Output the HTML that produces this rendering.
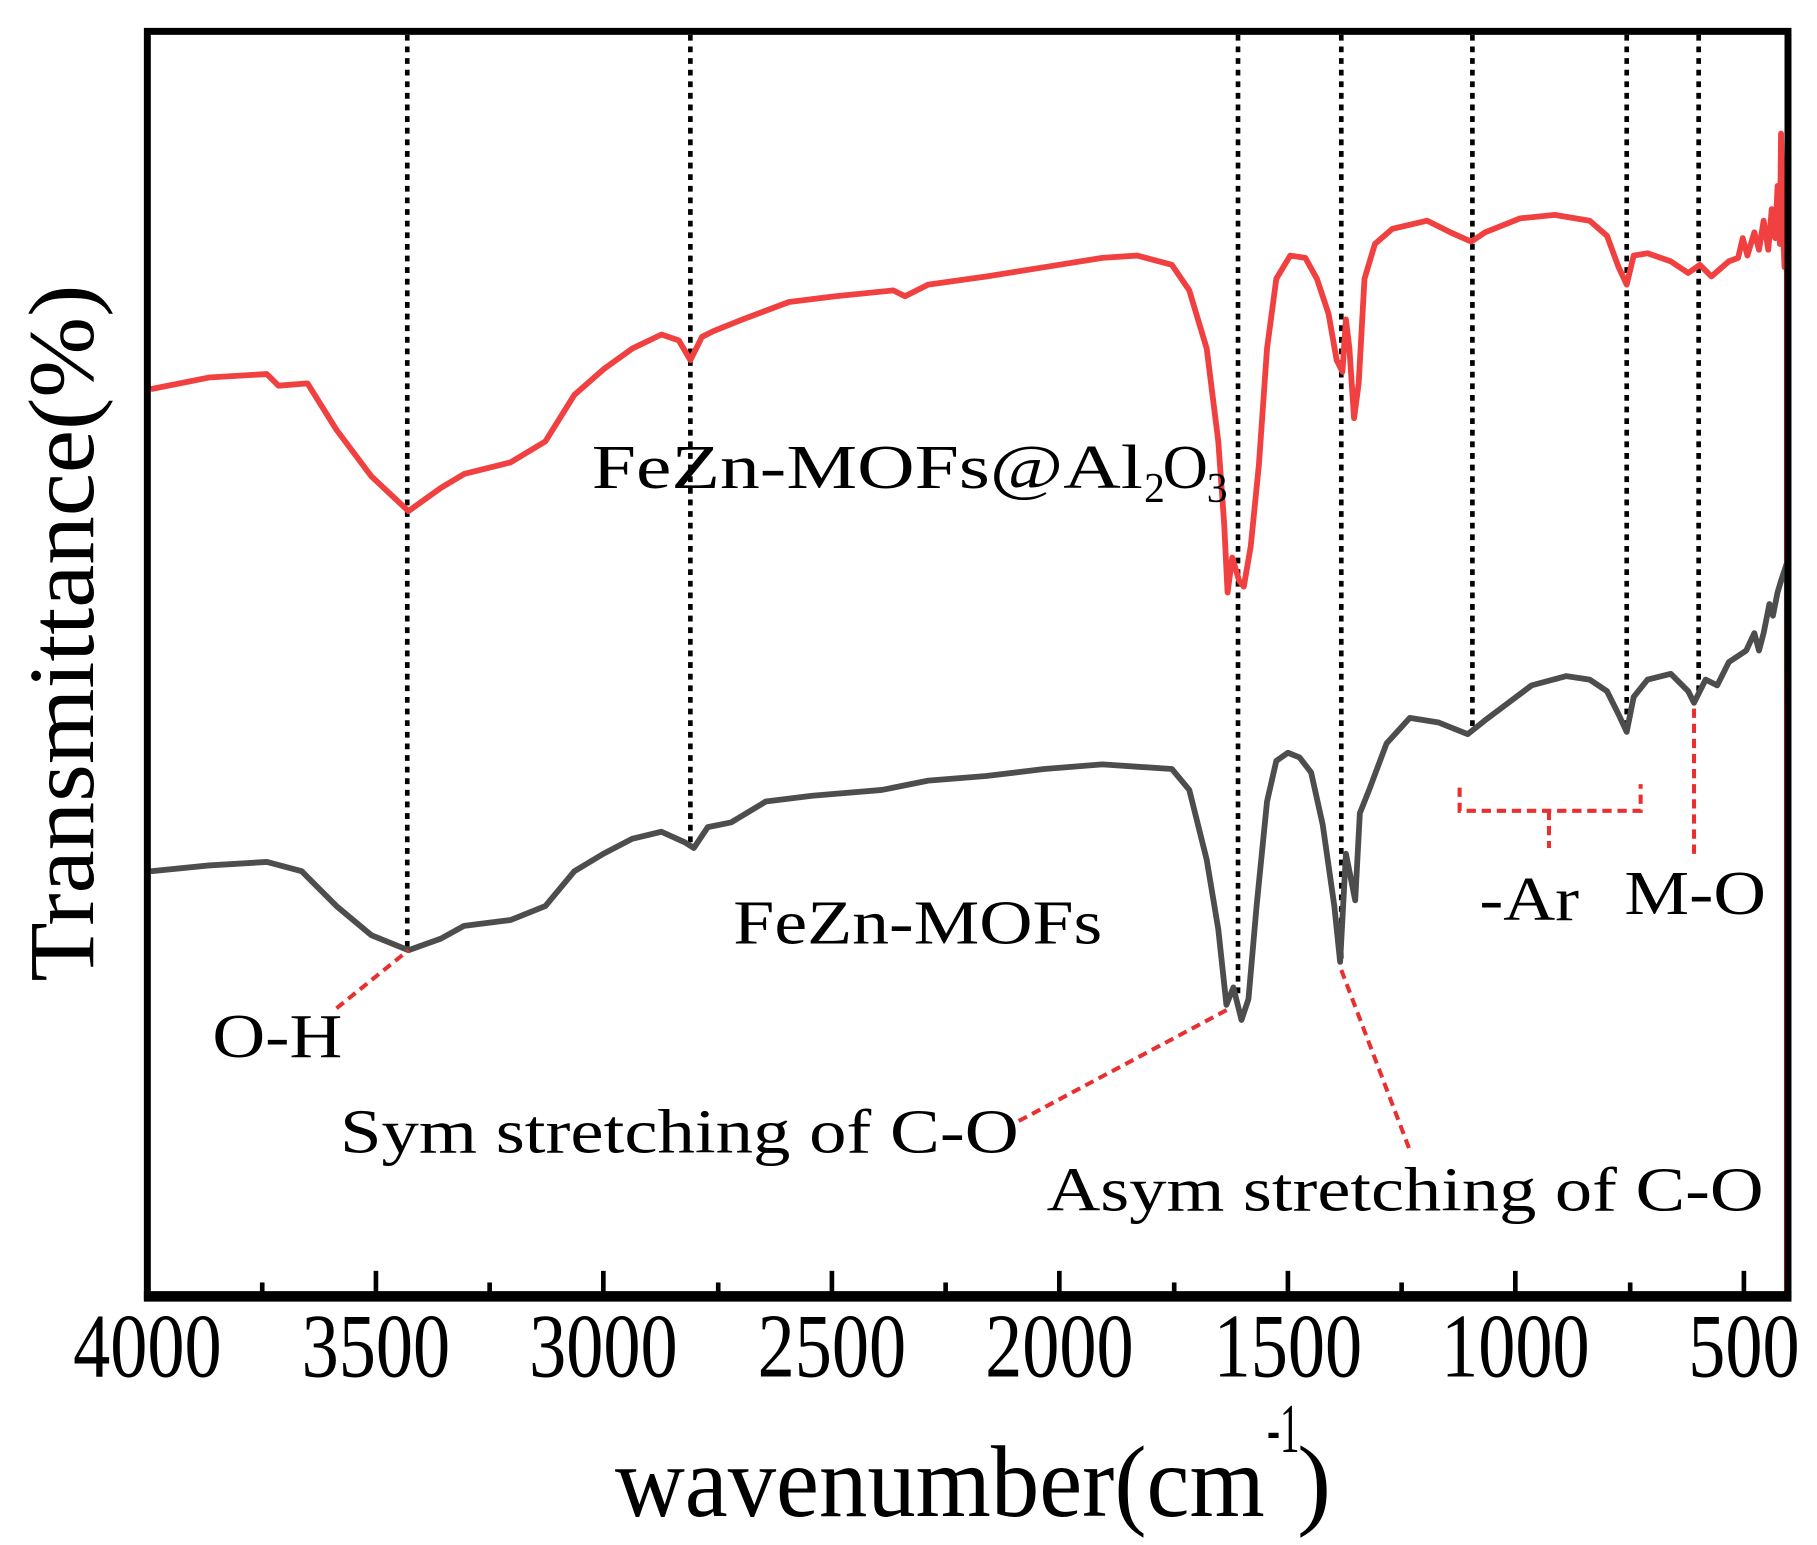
<!DOCTYPE html>
<html><head><style>html,body{margin:0;padding:0;background:#fff}svg{display:block}</style></head>
<body>
<svg width="1817" height="1545" viewBox="0 0 1566 1330" preserveAspectRatio="none" xmlns="http://www.w3.org/2000/svg" font-family="Liberation Serif, serif">
<rect width="1566" height="1330" fill="#fff"/>
<g stroke="#000" stroke-width="4" stroke-dasharray="5 5" fill="none">
<line x1="351" y1="30" x2="351" y2="818"/>
<line x1="595" y1="30" x2="595" y2="730"/>
<line x1="1067" y1="30" x2="1067" y2="860"/>
<line x1="1156" y1="30" x2="1156" y2="830"/>
<line x1="1269" y1="30" x2="1269" y2="630"/>
<line x1="1402" y1="30" x2="1402" y2="625"/>
<line x1="1464" y1="30" x2="1464" y2="600"/>
</g>
<polyline fill="none" stroke="#f04040" stroke-width="5" stroke-linejoin="round" points="130,335 180,325 230,322 240,332 265,330 290,370 320,410 352,440 380,420 400,408 440,398 470,380 495,340 520,318 545,300 570,288 585,293 595,310 605,290 615,285 640,275 680,260 720,255 770,250 780,255 800,245 850,238 900,230 950,222 980,220 1010,228 1025,250 1040,300 1050,380 1055,450 1058,510 1062,480 1068,500 1072,505 1078,470 1085,400 1092,300 1100,240 1112,220 1125,222 1135,240 1145,270 1152,310 1157,320 1160,275 1163,300 1167,360 1171,330 1176,240 1185,210 1200,197 1230,190 1250,200 1268,208 1280,200 1310,188 1340,185 1370,190 1385,203 1395,230 1402,245 1408,220 1420,218 1440,225 1455,235 1465,228 1475,238 1490,225 1498,222 1502,205 1506,220 1512,200 1516,215 1520,190 1524,215 1527,180 1530,205 1532,160 1534,210 1535,115 1537,205 1538,230 1540,230 1540,1116"/>
<polyline fill="none" stroke="#4d4d4d" stroke-width="5" stroke-linejoin="round" points="130,750 180,745 230,742 260,750 290,780 320,805 352,818 380,808 400,797 440,792 470,780 495,750 520,735 545,722 570,716 590,725 598,730 610,712 630,708 660,690 700,685 760,680 800,672 850,668 900,662 950,658 1010,662 1025,680 1040,740 1050,800 1057,865 1063,850 1070,878 1076,860 1083,780 1092,690 1100,655 1110,648 1120,652 1130,665 1140,710 1150,780 1155,828 1160,735 1165,760 1168,775 1172,700 1180,680 1195,640 1215,618 1240,622 1265,632 1280,620 1300,605 1320,590 1350,582 1370,585 1385,595 1395,615 1402,630 1408,600 1420,585 1440,580 1455,595 1460,605 1470,585 1480,590 1490,570 1505,560 1512,545 1516,560 1520,545 1525,520 1528,530 1532,510 1535,500 1540,485 1541,740 1541,1116"/>
<g stroke="#e83030" stroke-width="3.5" stroke-dasharray="8 5" fill="none">
<line x1="290" y1="868" x2="352" y2="818"/>
<line x1="878" y1="965" x2="1060" y2="868"/>
<line x1="1156" y1="835" x2="1215" y2="990"/>
<polyline points="1258,678 1258,698 1414,698 1414,675"/>
<line x1="1335" y1="698" x2="1335" y2="730"/>
<line x1="1460" y1="610" x2="1460" y2="740"/>
</g>
<rect x="127" y="27" width="1414" height="1089" fill="none" stroke="#000" stroke-width="6"/>
<line x1="124" y1="1116" x2="1544" y2="1116" stroke="#000" stroke-width="9"/>
<g stroke="#000" stroke-width="4">
<line x1="324" y1="1112" x2="324" y2="1094"/><line x1="520" y1="1112" x2="520" y2="1094"/>
<line x1="717" y1="1112" x2="717" y2="1094"/><line x1="913" y1="1112" x2="913" y2="1094"/>
<line x1="1110" y1="1112" x2="1110" y2="1094"/><line x1="1306" y1="1112" x2="1306" y2="1094"/>
<line x1="1503" y1="1112" x2="1503" y2="1094"/>
<line x1="226" y1="1112" x2="226" y2="1104"/><line x1="422" y1="1112" x2="422" y2="1104"/>
<line x1="619" y1="1112" x2="619" y2="1104"/><line x1="815" y1="1112" x2="815" y2="1104"/>
<line x1="1012" y1="1112" x2="1012" y2="1104"/><line x1="1208" y1="1112" x2="1208" y2="1104"/>
<line x1="1405" y1="1112" x2="1405" y2="1104"/>
</g>
<g font-size="78" text-anchor="middle">
<text x="127" y="1185" textLength="128" lengthAdjust="spacingAndGlyphs">4000</text>
<text x="324" y="1185" textLength="128" lengthAdjust="spacingAndGlyphs">3500</text>
<text x="520" y="1185" textLength="128" lengthAdjust="spacingAndGlyphs">3000</text>
<text x="717" y="1185" textLength="128" lengthAdjust="spacingAndGlyphs">2500</text>
<text x="913" y="1185" textLength="128" lengthAdjust="spacingAndGlyphs">2000</text>
<text x="1110" y="1185" textLength="128" lengthAdjust="spacingAndGlyphs">1500</text>
<text x="1306" y="1185" textLength="128" lengthAdjust="spacingAndGlyphs">1000</text>
<text x="1503" y="1185" textLength="96" lengthAdjust="spacingAndGlyphs">500</text>
</g>
<text x="530" y="1305" font-size="88" textLength="560" lengthAdjust="spacingAndGlyphs">wavenumber(cm</text>
<text x="1092" y="1250" font-size="60" textLength="28" lengthAdjust="spacingAndGlyphs">-1</text>
<text x="1118" y="1305" font-size="88">)</text>
<text transform="translate(80,845) rotate(-90)" font-size="80" textLength="600" lengthAdjust="spacingAndGlyphs">Transmittance(%)</text>
<g font-size="54">
<text x="510" y="420" textLength="475" lengthAdjust="spacingAndGlyphs">FeZn-MOFs@Al</text>
<text x="986" y="432" font-size="36">2</text>
<text x="1002" y="420">O</text>
<text x="1040" y="432" font-size="36">3</text>
<text x="632" y="812" textLength="318" lengthAdjust="spacingAndGlyphs">FeZn-MOFs</text>
<text x="183" y="910" textLength="112" lengthAdjust="spacingAndGlyphs">O-H</text>
<text x="293" y="992" textLength="585" lengthAdjust="spacingAndGlyphs">Sym stretching of C-O</text>
<text x="902" y="1042" textLength="618" lengthAdjust="spacingAndGlyphs">Asym stretching of C-O</text>
<text x="1275" y="792" textLength="86" lengthAdjust="spacingAndGlyphs">-Ar</text>
<text x="1400" y="787" textLength="122" lengthAdjust="spacingAndGlyphs">M-O</text>
</g>
</svg>
</body></html>
